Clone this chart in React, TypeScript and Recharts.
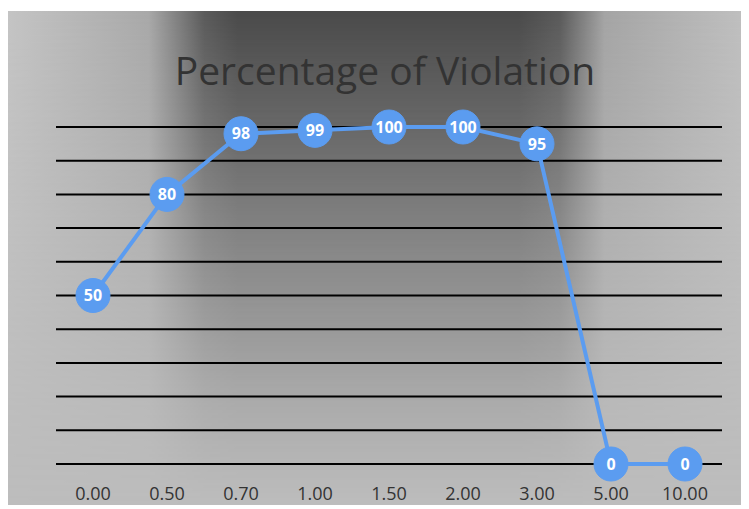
import React from "react";
import { LineChart, Line, XAxis, YAxis, CartesianGrid, LabelList } from "recharts";

const categories = ["0.00", "0.50", "0.70", "1.00", "1.50", "2.00", "3.00", "5.00", "10.00"];
const violation = [50, 80, 98, 99, 100, 100, 95, 0, 0];
const yTicks = [0, 10, 20, 30, 40, 50, 60, 70, 80, 90, 100];

const data = categories.map((c, i) => ({ name: c, value: violation[i] }));

const W = 741;
const BG_H = 494;
const H = 500;

export default function App() {
  return (
    <div
      style={{
        position: "relative",
        marginTop: 3,
        width: W,
        height: H,
        fontFamily: "'Open Sans', sans-serif",
      }}
    >
      <div
        style={{
          position: "absolute",
          left: 0,
          top: 0,
          width: W,
          height: BG_H,
          background: "#bdbdbd",
        }}
      />
      <div
        style={{
          position: "absolute",
          left: 0,
          top: 0,
          width: W,
          height: BG_H,
          background:
            "linear-gradient(to right, #c4c4c4 0%, #a8a8a8 19%, #5a5a5a 26.5%, #4a4a4a 31%, #4a4a4a 69%, #5a5a5a 74.5%, #a4a4a4 80.5%, #c0c0c0 100%)",
          WebkitMaskImage: "linear-gradient(to bottom, rgba(0,0,0,1) 0%, rgba(0,0,0,0.5) 45%, rgba(0,0,0,0.15) 80%, rgba(0,0,0,0) 100%)",
          maskImage: "linear-gradient(to bottom, rgba(0,0,0,1) 0%, rgba(0,0,0,0.5) 45%, rgba(0,0,0,0.15) 80%, rgba(0,0,0,0) 100%)",
        }}
      />
      <div
        style={{
          position: "absolute",
          left: 0,
          width: W,
          top: 39,
          textAlign: "center",
          paddingLeft: 13,
          boxSizing: "border-box",
          fontSize: 39,
          color: "#333333",
          lineHeight: "39px",
          whiteSpace: "nowrap",
        }}
      >
        Percentage of Violation
      </div>
      <div style={{ position: "absolute", left: 0, top: 0 }}>
        <LineChart width={W} height={H} data={data} margin={{ top: 116, right: 27, left: 48, bottom: 0 }}>
          <CartesianGrid horizontal vertical={false} stroke="#000" strokeWidth={2} />
          <YAxis hide domain={[0, 100]} ticks={yTicks} />
          <XAxis
            dataKey="name"
            axisLine={false}
            tickLine={false}
            height={47}
            tickMargin={17}
            padding={{ left: 37, right: 37 }}
            tick={{ fill: "#333", fontSize: 18, fontFamily: "'Open Sans', sans-serif" }}
            interval={0}
          />
          <Line
            type="linear"
            dataKey="value"
            stroke="#5b9cf0"
            strokeWidth={4}
            isAnimationActive={false}
            dot={{ r: 17, fill: "#5b9cf0", stroke: "#5b9cf0", strokeWidth: 1 }}
            activeDot={false}
          >
            <LabelList
              dataKey="value"
              position="center"
              fill="#fff"
              fontSize={16}
              fontWeight={700}
              fontFamily="'Open Sans', sans-serif"
            />
          </Line>
        </LineChart>
      </div>
    </div>
  );
}
